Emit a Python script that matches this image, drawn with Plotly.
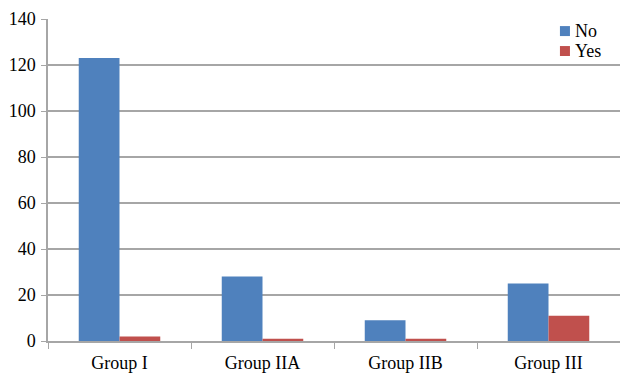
import plotly.graph_objects as go

categories = ["Group I", "Group IIA", "Group IIB", "Group III"]
no_values = [123, 28, 9, 25]
yes_values = [2, 1, 1, 11]
y_ticks = [0, 20, 40, 60, 80, 100, 120, 140]
series_names = ["No", "Yes"]
series_colors = ["#4F81BD", "#C0504D"]

fig = go.Figure()
fig.add_trace(go.Bar(name=series_names[0], x=categories, y=no_values,
                     marker=dict(color=series_colors[0], line=dict(width=0))))
fig.add_trace(go.Bar(name=series_names[1], x=categories, y=yes_values,
                     marker=dict(color=series_colors[1], line=dict(width=0))))

font_family = "Liberation Serif"
fig.update_layout(
    width=620, height=373,
    margin=dict(l=48, r=0, t=19, b=32),
    paper_bgcolor="white", plot_bgcolor="white",
    barmode="group", bargap=0.43, bargroupgap=0,
    font=dict(family=font_family, size=18, color="black"),
    showlegend=False,
)

# Legend drawn as swatches + text in the top-right corner
legend_rows = [(0.978, 0.947, 0.963), (0.916, 0.885, 0.901)]
for name, color, (y1, y0, yt) in zip(series_names, series_colors, legend_rows):
    fig.add_shape(type="rect", xref="paper", yref="paper",
                  x0=0.895, x1=0.9125, y0=y0, y1=y1,
                  fillcolor=color, line=dict(width=0))
    fig.add_annotation(text=name, xref="paper", yref="paper", x=0.917, y=yt,
                       xanchor="left", yanchor="middle", showarrow=False,
                       font=dict(size=18, family=font_family, color="black"))

fig.update_xaxes(
    type="category", showline=True, linecolor="#A6A6A6", linewidth=1.5,
    ticks="outside", tickson="boundaries", ticklen=6, tickcolor="#A6A6A6",
    tickfont=dict(size=18, family=font_family), showgrid=False, range=[-0.5, 3.5],
    ticklabelstandoff=5,
)
fig.update_yaxes(
    range=[0, 140], tickvals=y_ticks, showline=True, linecolor="#A6A6A6", linewidth=1.5,
    ticks="outside", ticklen=5, tickcolor="#A6A6A6",
    showgrid=True, gridcolor="#A6A6A6", gridwidth=1.5, zeroline=False,
    tickfont=dict(size=18, family=font_family), ticklabelstandoff=2,
)
fig.write_html("out.html")
